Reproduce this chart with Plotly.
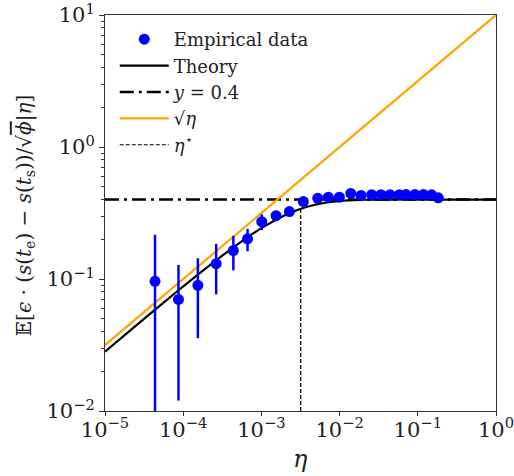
import plotly.graph_objects as go

# Empirical measurements (step size eta, mean value, error bar half-width)
eta_emp = [4.36e-5, 8.7e-5, 1.54e-4, 2.64e-4, 4.38e-4, 6.65e-4, 1.01e-3, 1.54e-3,
           2.28e-3, 3.44e-3, 5.25e-3, 7.18e-3, 9.93e-3, 1.39e-2, 1.88e-2, 2.57e-2,
           3.38e-2, 4.41e-2, 5.8e-2, 7.07e-2, 9.2e-2, 0.118, 0.150, 0.183]
y_emp = [0.096, 0.070, 0.0896, 0.1306, 0.1644, 0.2014, 0.272, 0.302,
         0.324, 0.386, 0.409, 0.417, 0.417, 0.445, 0.430, 0.435,
         0.435, 0.435, 0.435, 0.436, 0.436, 0.436, 0.434, 0.412]
err_emp = [0.12, 0.058, 0.054, 0.054, 0.048, 0.039, 0.037, 0.02,
           0.015, 0.012, 0.010, 0.010, 0.008, 0.008, 0.006, 0.006,
           0.005, 0.005, 0.005, 0.005, 0.005, 0.005, 0.005, 0.005]

# Theory curve samples
eta_theory = [1e-5, 2e-5, 5e-5, 1e-4, 2e-4, 5e-4, 1e-3, 2e-3, 3e-3, 5e-3,
              1e-2, 2e-2, 5e-2, 1e-1, 1.0]
y_theory = [0.0282, 0.0398, 0.0626, 0.0878, 0.122, 0.184, 0.243, 0.304, 0.336, 0.367,
            0.391, 0.3985, 0.400, 0.400, 0.400]

# Reference lines
plateau = 0.4
eta_sqrt = [1e-5, 1.0]
y_sqrt = [0.0316, 10.0]
eta_star = 3.18e-3
y_star_top = 0.338

x_ticks = [1e-5, 1e-4, 1e-3, 1e-2, 1e-1, 1.0]
x_labels = ["10<sup>−5</sup>", "10<sup>−4</sup>", "10<sup>−3</sup>",
            "10<sup>−2</sup>", "10<sup>−1</sup>", "10<sup>0</sup>"]
y_ticks = [1e-2, 1e-1, 1.0, 10.0]
y_labels = ["10<sup>−2</sup>", "10<sup>−1</sup>", "10<sup>0</sup>", "10<sup>1</sup>"]
y_minor = [m * 10.0 ** e for e in (-2, -1, 0) for m in range(2, 10)]

SERIF = "DejaVu Serif"
AX = "#333333"
TXT = "#222222"

fig = go.Figure()

fig.add_trace(go.Scatter(
    x=eta_theory, y=y_theory, mode="lines", name="Theory",
    line=dict(color="black", width=2.2, shape="spline"), legendrank=2))
fig.add_trace(go.Scatter(
    x=[1e-5, 1.0], y=[plateau, plateau], mode="lines", name="<i>y</i> = 0.4",
    line=dict(color="black", width=2.5, dash="14px,5px,3px,5px"), legendrank=3))
fig.add_trace(go.Scatter(
    x=eta_sqrt, y=y_sqrt, mode="lines", name="√<i>η</i>",
    line=dict(color="#FFA500", width=2.2), legendrank=4))
fig.add_trace(go.Scatter(
    x=[eta_star, eta_star], y=[0.01, y_star_top], mode="lines", name="<i>η</i><sup>⋆</sup>",
    line=dict(color="black", width=1.2, dash="4px,2px"), legendrank=5))
fig.add_trace(go.Scatter(
    x=eta_emp, y=y_emp, mode="markers", name="Empirical data",
    marker=dict(color="#0000FF", size=11),
    error_y=dict(type="data", array=err_emp, color="#0000FF", thickness=2.5, width=0),
    legendrank=1))

fig.update_layout(
    width=514, height=476,
    margin=dict(l=105, r=18, t=15, b=65, autoexpand=False),
    plot_bgcolor="white", paper_bgcolor="white",
    font=dict(family=SERIF, color=TXT),
    showlegend=True,
    legend=dict(x=0.025, y=0.985, xanchor="left", yanchor="top", itemwidth=49,
                bgcolor="rgba(0,0,0,0)", font=dict(family=SERIF, size=18, color=TXT),
                tracegroupgap=0),
)

fig.update_xaxes(
    type="log", range=[-5, 0], showgrid=False, zeroline=False, automargin=False,
    showline=True, mirror=True, linecolor=AX, linewidth=1,
    ticks="outside", ticklen=4, tickcolor=AX, tickwidth=1,
    tickmode="array", tickvals=x_ticks, ticktext=x_labels,
    tickfont=dict(family=SERIF, size=21, color=TXT),
    ticklabeloverflow="allow", ticklabelstandoff=-4,
)
fig.update_yaxes(
    type="log", range=[-2, 1], showgrid=False, zeroline=False, automargin=False,
    showline=True, mirror=True, linecolor=AX, linewidth=1,
    ticks="outside", ticklen=5, tickcolor=AX, tickwidth=1,
    tickmode="array", tickvals=y_ticks, ticktext=y_labels,
    tickfont=dict(family=SERIF, size=21, color=TXT),
    ticklabeloverflow="allow",
    minor=dict(ticks="outside", ticklen=3, tickcolor=AX, tickwidth=1,
               tickmode="array", tickvals=y_minor, showgrid=False),
)

# Axis titles
fig.add_annotation(
    xref="paper", yref="paper", x=-0.2046, y=0.492, xanchor="center", yanchor="middle",
    textangle=-90, showarrow=False,
    text="𝔼[<i>ϵ</i> · (<i>s</i>(<i>t</i><sub>e</sub>) − <i>s</i>(<i>t</i><sub>s</sub>))/"
         "√<span style=\"text-decoration:overline\"><i>ϕ</i></span>|<i>η</i>]",
    font=dict(family=SERIF, size=20, color=TXT))
fig.add_annotation(
    xref="paper", yref="paper", x=0.5, y=-0.12, xanchor="center", yanchor="middle",
    showarrow=False, text="<i>η</i>",
    font=dict(family=SERIF, size=24, color=TXT))

fig.write_html("out.html")
